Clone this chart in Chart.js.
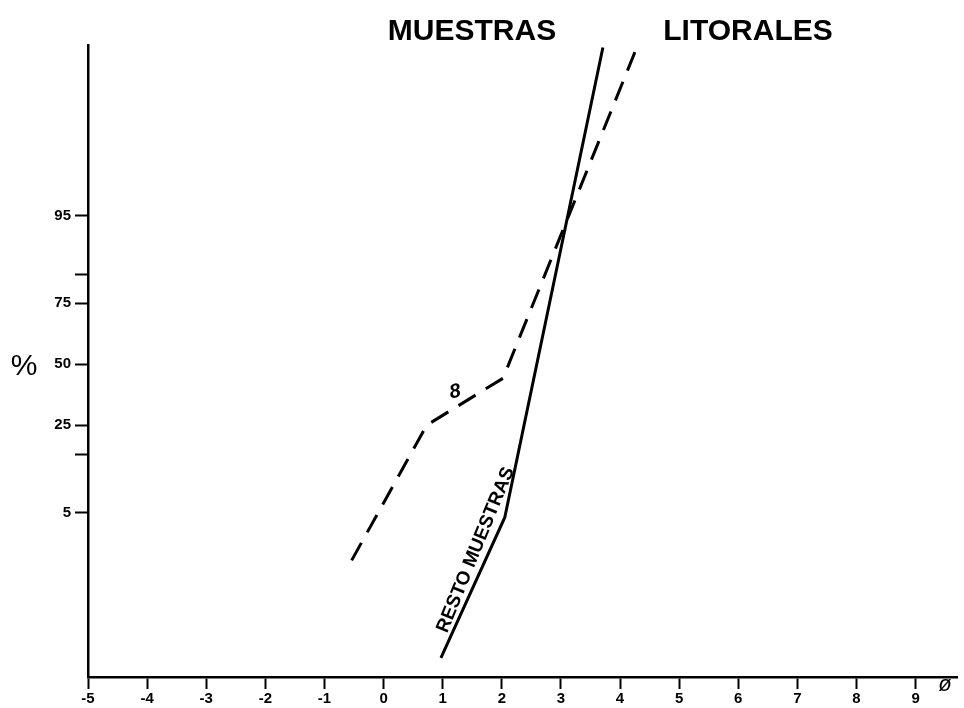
<!DOCTYPE html>
<html>
<head>
<meta charset="utf-8">
<script src="https://cdn.jsdelivr.net/npm/chart.js@4.4.1/dist/chart.umd.min.js"></script>
<style>
  html, body { margin: 0; padding: 0; background: #fff; }
  #wrap { position: relative; width: 964px; height: 708px; }
</style>
</head>
<body>
<div id="wrap"><canvas id="c" width="964" height="708"></canvas></div>
<script>
// ---- data (phi units on x, cumulative percent on y) ----
const titleWords = ['MUESTRAS', 'LITORALES'];
const xTicks = [-5, -4, -3, -2, -1, 0, 1, 2, 3, 4, 5, 6, 7, 8, 9];
const yTickPercents = [5, 16, 25, 50, 75, 84, 95];
const yTickLabels = ['5', '', '25', '50', '75', '', '95'];

const restoPhi = [0.97, 2.05, 3.71];
const restoPct = [0.058, 4.5, 99.977];

const sample8Phi = [-0.54, 0.73, 2.02, 4.27];
const sample8Pct = [1.5, 25, 43.8, 99.975];

// ---- inverse normal CDF (probability paper) ----
function probit(p) {
  const a = [-3.969683028665376e+01, 2.209460984245205e+02, -2.759285104469687e+02, 1.383577518672690e+02, -3.066479806614716e+01, 2.506628277459239e+00];
  const b = [-5.447609879822406e+01, 1.615858368580409e+02, -1.556989798598866e+02, 6.680131188771972e+01, -1.328068155288572e+01];
  const c = [-7.784894002430293e-03, -3.223964580411365e-01, -2.400758277161838e+00, -2.549732539343734e+00, 4.374664141464968e+00, 2.938163982698783e+00];
  const d = [7.784695709041462e-03, 3.224671290700398e-01, 2.445134137142996e+00, 3.754408661907416e+00];
  const pl = 0.02425, ph = 1 - pl;
  let q, r;
  if (p < pl) {
    q = Math.sqrt(-2 * Math.log(p));
    return (((((c[0]*q+c[1])*q+c[2])*q+c[3])*q+c[4])*q+c[5]) / ((((d[0]*q+d[1])*q+d[2])*q+d[3])*q+1);
  } else if (p <= ph) {
    q = p - 0.5; r = q * q;
    return (((((a[0]*r+a[1])*r+a[2])*r+a[3])*r+a[4])*r+a[5])*q / (((((b[0]*r+b[1])*r+b[2])*r+b[3])*r+b[4])*r+1);
  } else {
    q = Math.sqrt(-2 * Math.log(1 - p));
    return -(((((c[0]*q+c[1])*q+c[2])*q+c[3])*q+c[4])*q+c[5]) / ((((d[0]*q+d[1])*q+d[2])*q+d[3])*q+1);
  }
}
const toPts = (xs, ps) => xs.map((x, i) => ({ x: x, y: probit(ps[i] / 100) }));

const FONT = '"Liberation Sans", Arial, Helvetica, sans-serif';

const textPlugin = {
  id: 'texts',
  afterDraw(chart) {
    const ctx = chart.ctx;
    const xs = chart.scales.x, ys = chart.scales.y;
    ctx.save();
    ctx.fillStyle = '#000';
    // title
    ctx.font = 'bold 30px ' + FONT;
    ctx.textAlign = 'center';
    ctx.textBaseline = 'alphabetic';
    ctx.fillText(titleWords[0], 472, 40);
    ctx.fillText(titleWords[1], 748, 40);
    // % axis label
    ctx.font = '30px ' + FONT;
    ctx.textBaseline = 'middle';
    ctx.fillText('%', 24, 367);
    // phi label
    ctx.font = 'italic 22px ' + FONT;
    ctx.fillText('ø', xs.right - 12, 685);
    // "8" label on the dashed curve
    ctx.save();
    ctx.translate(xs.getPixelForValue(1.21), ys.getPixelForValue(probit(0.379)));
    ctx.rotate(-0.2);
    ctx.font = 'bold italic 20px ' + FONT;
    ctx.fillText('8', 0, 0);
    ctx.restore();
    // "RESTO MUESTRAS" along the solid curve
    ctx.save();
    ctx.translate(xs.getPixelForValue(1.56), ys.getPixelForValue(probit(0.020)));
    ctx.rotate(-67.7 * Math.PI / 180);
    ctx.font = 'bold 19px ' + FONT;
    ctx.fillText('RESTO MUESTRAS', 0, 0);
    ctx.restore();
    ctx.restore();
  }
};

new Chart(document.getElementById('c'), {
  type: 'line',
  data: {
    datasets: [
      {
        label: 'RESTO MUESTRAS',
        data: toPts(restoPhi, restoPct),
        borderColor: '#000',
        borderWidth: 3,
        pointRadius: 0,
        tension: 0,
        fill: false
      },
      {
        label: '8',
        data: toPts(sample8Phi, sample8Pct),
        borderColor: '#000',
        borderWidth: 3,
        borderDash: [20, 12],
        pointRadius: 0,
        tension: 0,
        fill: false
      }
    ]
  },
  options: {
    responsive: false,
    animation: false,
    layout: { padding: { top: 45, right: 7, left: 0, bottom: 0 } },
    plugins: { legend: { display: false }, title: { display: false }, tooltip: { enabled: false } },
    scales: {
      x: {
        type: 'linear',
        min: -5,
        max: 9.7,
        afterBuildTicks(axis) { axis.ticks = xTicks.map(v => ({ value: v })); },
        afterFit(axis) { axis.height = 31; },
        ticks: {
          color: '#000',
          font: { family: FONT, size: 15, weight: 'bold' },
          padding: 1,
          maxRotation: 0,
          autoSkip: false,
          callback: v => String(v)
        },
        grid: { display: true, drawOnChartArea: false, drawTicks: true, tickLength: 12, tickColor: '#000', tickWidth: 2 },
        border: { display: true, color: '#000', width: 2.5 }
      },
      y: {
        type: 'linear',
        min: -3.46,
        max: 3.53,
        afterBuildTicks(axis) { axis.ticks = yTickPercents.map(p => ({ value: probit(p / 100) })); },
        afterFit(axis) { axis.width = 88; },
        ticks: {
          color: '#000',
          font: { family: FONT, size: 15, weight: 'bold' },
          padding: 4,
          autoSkip: false,
          callback: (v, i) => yTickLabels[i]
        },
        grid: { display: true, drawOnChartArea: false, drawTicks: true, tickLength: 13, tickColor: '#000', tickWidth: 2 },
        border: { display: true, color: '#000', width: 2.5 }
      }
    }
  },
  plugins: [textPlugin]
});
</script>
</body>
</html>
